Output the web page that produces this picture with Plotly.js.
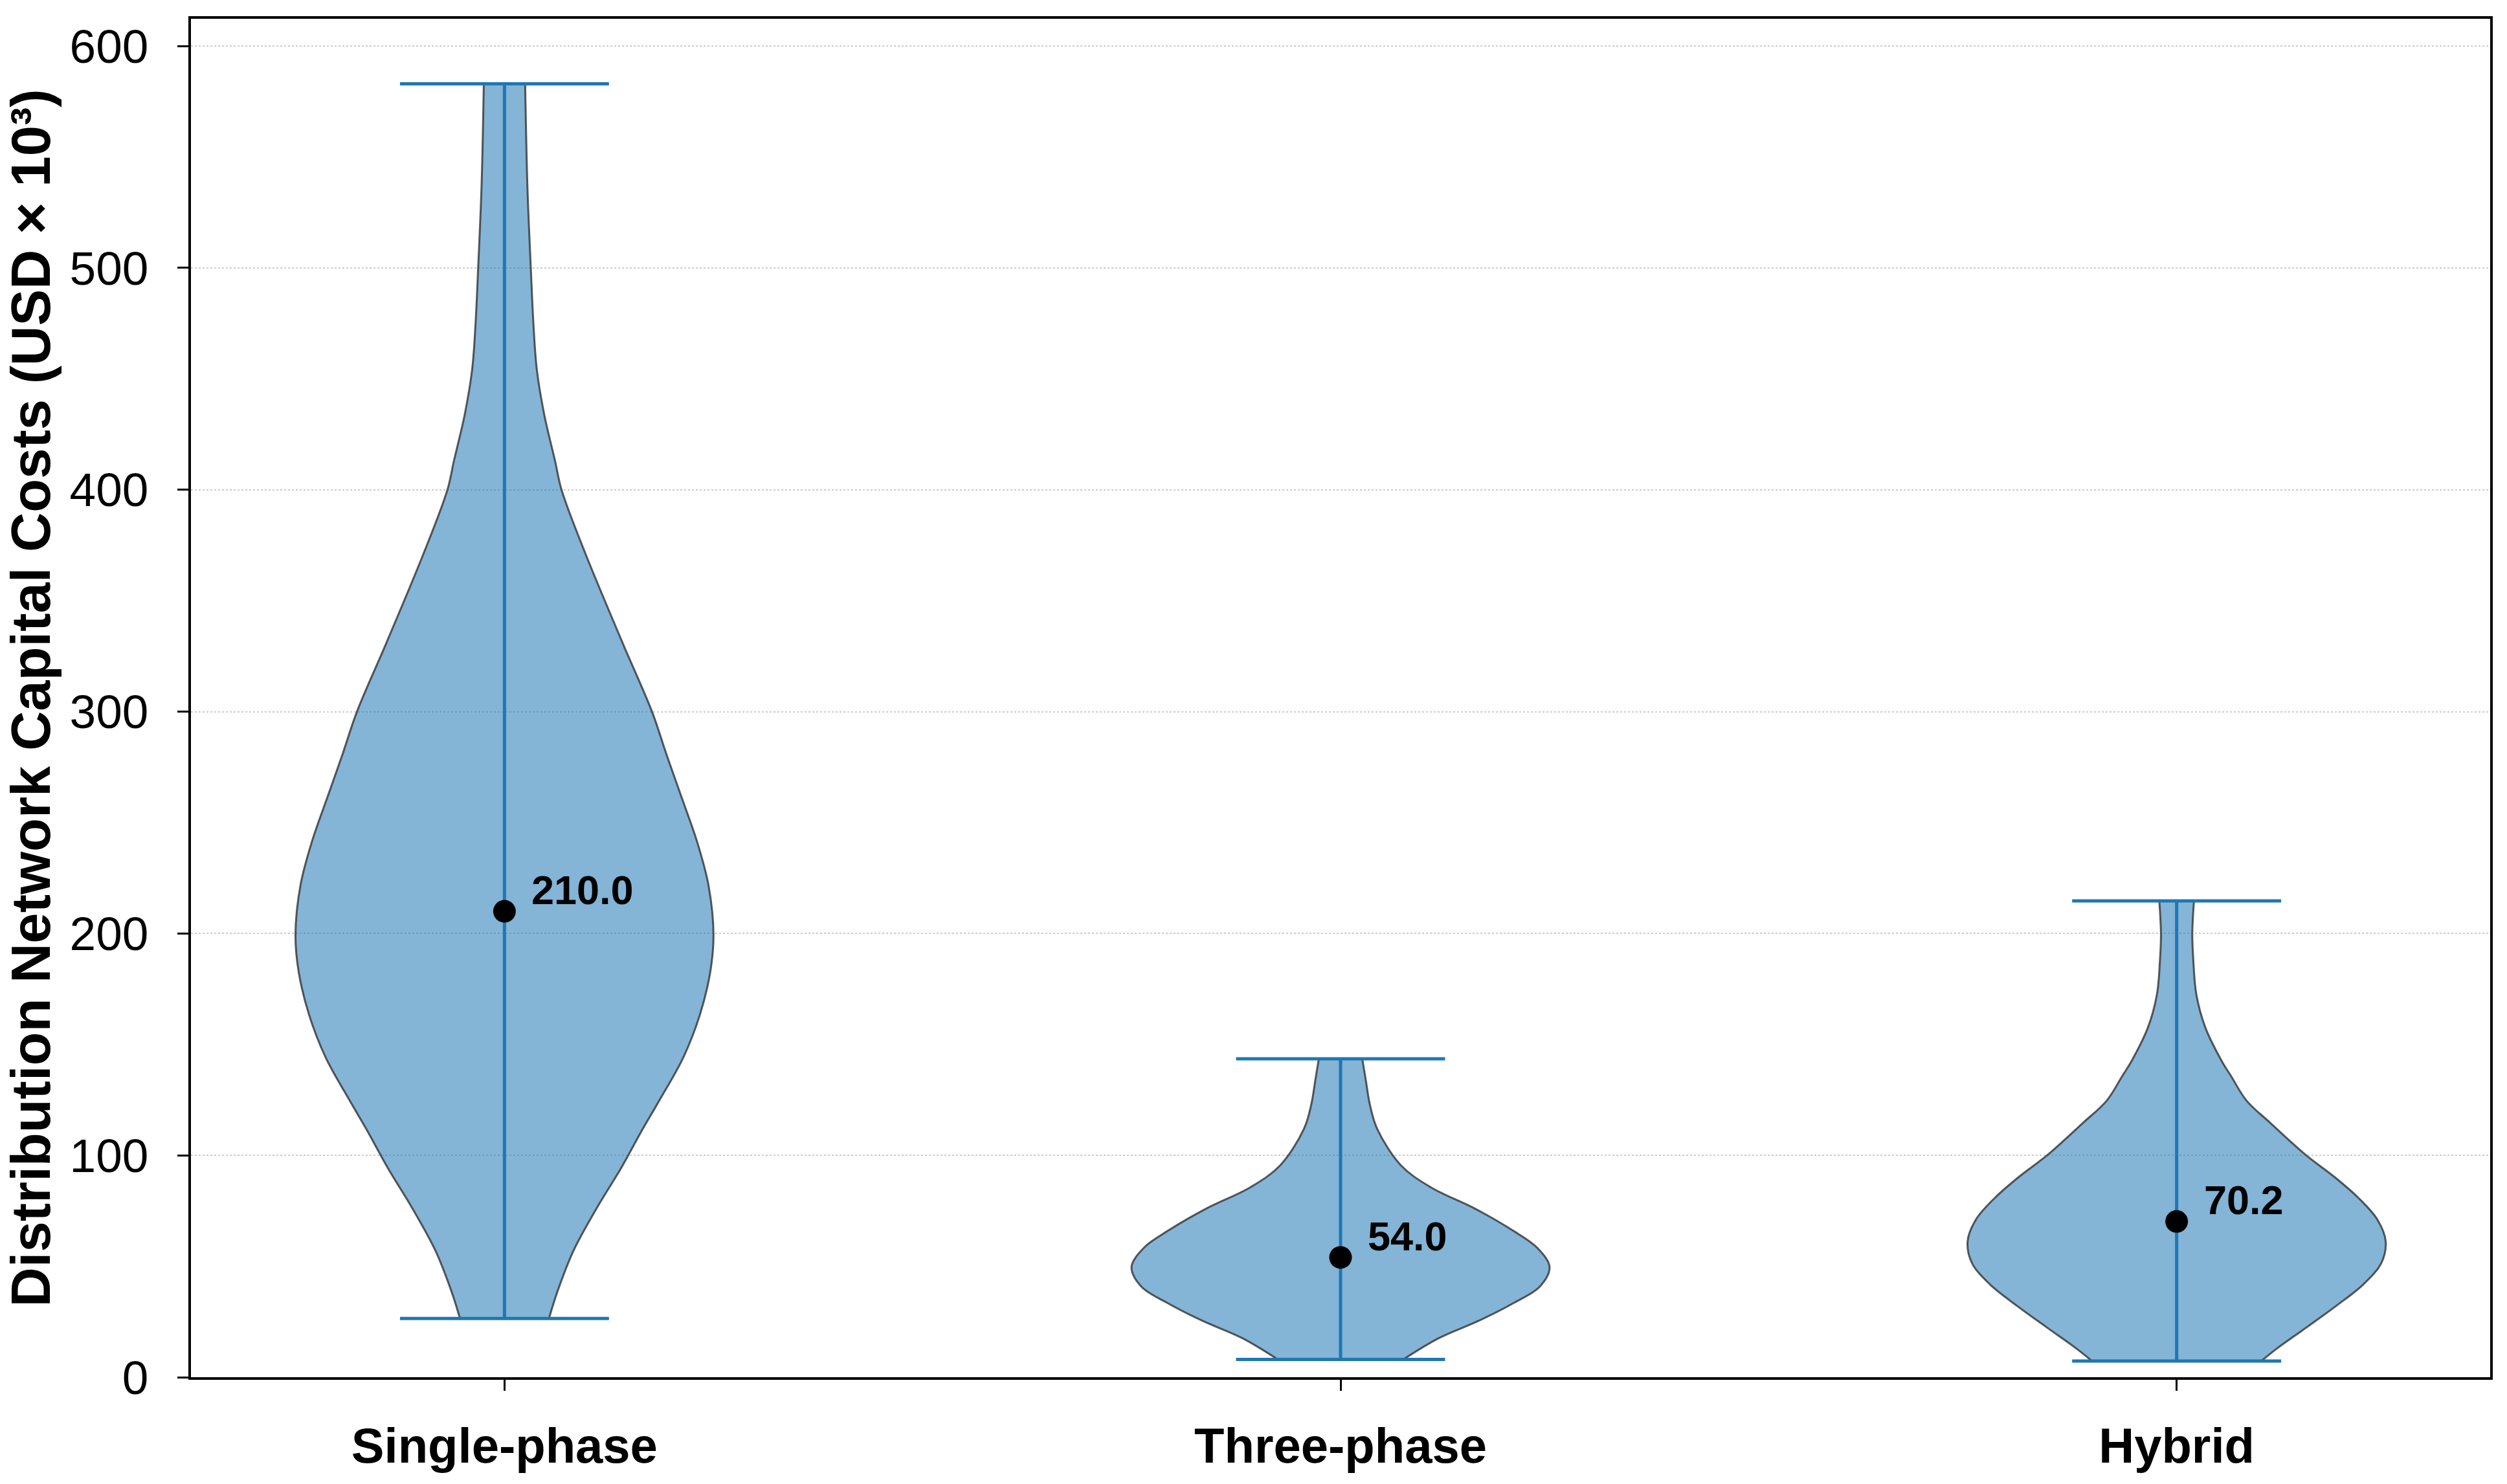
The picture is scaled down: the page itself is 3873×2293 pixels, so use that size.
<!DOCTYPE html>
<html>
<head>
<meta charset="utf-8">
<script src="https://cdn.plot.ly/plotly-3.0.1.min.js"></script>
<style>html,body{margin:0;padding:0;background:#fff;}</style>
</head>
<body>
<div id="chart" style="width:3873px;height:2293px;"></div>
<script>
// ---- data ----
const categories = ['Single-phase', 'Three-phase', 'Hybrid'];
const positions = [1, 2, 3];
const medians = [210.0, 54.0, 70.2];
const minima = [26.5, 8.0, 7.3];
const maxima = [583, 143.5, 214.7];

// violin outlines: value levels and relative half-widths (1 = widest point)
const singleLevels = [26.5, 38.5, 57, 76, 94.6, 110, 124.6, 144, 163.4, 182.9, 199.6, 221.8, 241.2, 262, 281, 299.7, 331, 372, 400, 413, 434, 454, 474, 500, 536, 583];
const singleWidths = [0.213, 0.253, 0.33, 0.44, 0.56, 0.65, 0.74, 0.855, 0.935, 0.985, 1.0, 0.976, 0.922, 0.845, 0.774, 0.707, 0.565, 0.384, 0.273, 0.242, 0.19, 0.155, 0.139, 0.126, 0.11, 0.099];
const threeLevels = [8.0, 17.6, 25.4, 33.2, 40.9, 49.7, 58.4, 66.2, 75.9, 85.7, 95.4, 112, 123, 134.4, 143.5];
const threeWidths = [0.30, 0.47, 0.66, 0.823, 0.954, 1.0, 0.94, 0.823, 0.645, 0.43, 0.29, 0.175, 0.14, 0.12, 0.104];
const hybridLevels = [7.3, 12.8, 22.5, 32.2, 41.9, 51.6, 61.3, 71.1, 80.8, 90.5, 100, 114.9, 124.6, 135.8, 142.8, 157.7, 172.7, 187.6, 199.6, 214.7];
const hybridWidths = [0.405, 0.478, 0.622, 0.764, 0.894, 0.98, 1.0, 0.96, 0.87, 0.752, 0.62, 0.445, 0.335, 0.26, 0.214, 0.137, 0.094, 0.08, 0.075, 0.083];

const yTicks = [0, 100, 200, 300, 400, 500, 600];

// ---- styling ----
const halfMax = 0.25;       // widest half-width in x units
const capHalf = 0.125;      // extrema cap half-length
const blue = '#1f77b4';
const fillCol = 'rgba(31,119,180,0.55)';
const edgeCol = 'rgba(50,50,50,0.8)';
const fontFam = '"Liberation Sans", Arial, Helvetica, sans-serif';

const outlines = [
  [singleLevels, singleWidths],
  [threeLevels, threeWidths],
  [hybridLevels, hybridWidths]
];

const traces = [];
outlines.forEach(([lv, wd], i) => {
  const p = positions[i];
  const lineStyle = {color: edgeCol, width: 3, shape: 'spline', smoothing: 1};
  traces.push({
    type: 'scatter', mode: 'lines',
    x: wd.map(w => p - halfMax * w), y: lv,
    line: lineStyle, hoverinfo: 'skip', showlegend: false
  });
  traces.push({
    type: 'scatter', mode: 'lines',
    x: wd.map(w => p + halfMax * w), y: lv,
    fill: 'tonextx', fillcolor: fillCol,
    line: lineStyle, hoverinfo: 'skip', showlegend: false
  });
});

// vertical bars min->max
const vx = [], vy = [];
positions.forEach((p, i) => { vx.push(p, p, null); vy.push(minima[i], maxima[i], null); });
traces.push({type: 'scatter', mode: 'lines', x: vx, y: vy, line: {color: blue, width: 5}, showlegend: false, hoverinfo: 'skip'});

// caps
const cx = [], cy = [];
positions.forEach((p, i) => {
  cx.push(p - capHalf, p + capHalf, null); cy.push(minima[i], minima[i], null);
  cx.push(p - capHalf, p + capHalf, null); cy.push(maxima[i], maxima[i], null);
});
traces.push({type: 'scatter', mode: 'lines', x: cx, y: cy, line: {color: blue, width: 5}, showlegend: false, hoverinfo: 'skip'});

// medians
traces.push({type: 'scatter', mode: 'markers', x: positions, y: medians,
  marker: {color: 'black', size: 35}, showlegend: false, hoverinfo: 'skip'});

const annotations = positions.map((p, i) => ({
  x: p, y: medians[i], xref: 'x', yref: 'y',
  text: medians[i].toFixed(1), showarrow: false,
  xanchor: 'left', yanchor: 'bottom', xshift: 40, yshift: -4,
  font: {family: fontFam, size: 63, color: 'black', weight: 'bold'}
}));

const layout = {
  width: 3873, height: 2293,
  margin: {l: 295, r: 26, t: 29, b: 165},
  paper_bgcolor: 'white', plot_bgcolor: 'white',
  showlegend: false,
  font: {family: fontFam, color: 'black'},
  xaxis: {
    range: [0.625, 3.375], tickmode: 'array', tickvals: positions, ticktext: categories,
    ticks: 'outside', ticklen: 17, tickwidth: 3, tickcolor: 'black',
    tickfont: {family: fontFam, size: 76, color: 'black', weight: 'bold'},
    showline: true, linecolor: 'black', linewidth: 4, mirror: true,
    showgrid: false, zeroline: false, ticklabelstandoff: 20
  },
  yaxis: {
    range: [0, 612.3], tickmode: 'array', tickvals: yTicks,
    ticks: 'outside', ticklen: 17, tickwidth: 3, tickcolor: 'black',
    tickfont: {family: fontFam, size: 73, color: 'black'},
    showline: true, linecolor: 'black', linewidth: 4, mirror: true,
    showgrid: true, gridcolor: '#cccccc', gridwidth: 2, griddash: 'dot',
    zeroline: false, ticklabelstandoff: 30,
    title: {text: 'Distribution Network Capital Costs (USD × 10³)', standoff: 15,
      font: {family: fontFam, size: 85, color: 'black', weight: 'bold'}}
  },
  annotations: annotations
};

Plotly.newPlot('chart', traces, layout, {staticPlot: true, displayModeBar: false});
</script>
</body>
</html>
